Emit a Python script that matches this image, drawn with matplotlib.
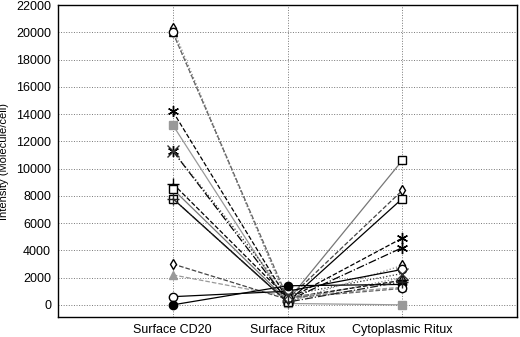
import numpy as np
import matplotlib
matplotlib.use('Agg')
import matplotlib.pyplot as plt

plt.rcParams['font.family'] = ['Liberation Sans', 'DejaVu Sans']

categories = ['Surface CD20', 'Surface Ritux', 'Cytoplasmic Ritux']

# one row per patient: values at the three categories
surface_cd20 = [20300, 20000, 14200, 13200, 11300, 8900, 8500, 7800, 3000, 2200, 600, 0, 20000, 11300, 7800]
surface_ritux = [200, 300, 400, 100, 300, 500, 300, 200, 400, 600, 1000, 1400, 500, 700, 200]
cyto_ritux = [2900, 2000, 4900, 0, 4200, 1800, 10600, 7800, 8400, 1300, 2600, 1500, 1200, 2300, 1700]

star = (6, 2, 0)
# marker, fill, line colour, line style
styles = [
    ('d', 'white', '#888888', ':'),
    ('^', 'white', '#888888', ':'),
    (star, 'black', 'black', '--'),
    ('s', '#999999', '#999999', '-'),
    (star, 'black', 'black', '-.'),
    ('+', 'black', 'black', '--'),
    ('s', 'white', '#777777', '-'),
    ('s', 'white', 'black', '-'),
    ('d', 'white', '#444444', '--'),
    ('^', '#999999', '#999999', '--'),
    ('o', 'white', 'black', '-'),
    ('o', 'black', 'black', '-'),
    ('o', 'white', '#666666', '--'),
    ('x', 'black', '#333333', ':'),
    ('+', 'black', '#222222', '-.'),
]

fig = plt.figure(figsize=(5.2, 3.37), dpi=100)
ax = fig.add_axes([0.1115, 0.059, 0.883, 0.926])

x = np.arange(1, 4)
for i in range(len(surface_cd20)):
    m, fc, c, ls = styles[i]
    y = [surface_cd20[i], surface_ritux[i], cyto_ritux[i]]
    if m == 'd':
        ms = 5
    elif m in ('+', 'x') or m == star:
        ms = 8
    else:
        ms = 6
    ax.plot(x, y, linestyle=ls, color=c, linewidth=0.9, marker=m,
            markersize=ms, markerfacecolor=fc,
            markeredgecolor=c if fc != 'white' else 'black',
            markeredgewidth=1.0)

ax.set_xlim(0, 4)
ax.set_ylim(-900, 22000)
ax.set_xticks(x)
ax.set_xticklabels(categories, fontsize=9)
ax.set_yticks(np.arange(0, 22001, 2000))
ax.tick_params(axis='y', labelsize=9, length=0, pad=5)
ax.tick_params(axis='x', length=0, pad=5)
ax.grid(True, linestyle=':', color='#777777', linewidth=0.7)
ax.set_axisbelow(True)
for s in ax.spines.values():
    s.set_linewidth(1.0)
ax.set_ylabel('Intensity (Molecule/cell)', fontsize=8)
ax.yaxis.set_label_coords(-0.107, 0.5)

fig.savefig('out.png', dpi=100)
